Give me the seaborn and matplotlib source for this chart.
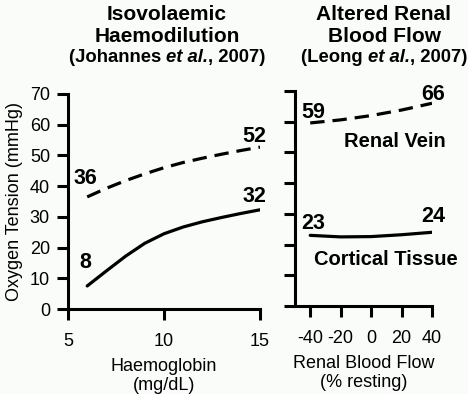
import matplotlib
matplotlib.use("Agg")
import matplotlib.pyplot as plt
from matplotlib.offsetbox import TextArea, HPacker, AnnotationBbox
import pandas as pd
import seaborn as sns

# left panel: haemodilution
hb = [6, 7, 8, 9, 10, 11, 12, 13, 14, 15]
renal_vein_hb = [36.5, 39.3, 41.8, 44.0, 46.0, 47.7, 49.1, 50.4, 51.6, 52.7]
cortex_hb = [7.5, 12.4, 17.2, 21.4, 24.5, 26.7, 28.4, 29.8, 31.1, 32.3]

# right panel: renal blood flow
rbf = [-40, -20, 0, 20, 40]
renal_vein_rbf = [59.6, 60.6, 62.0, 63.8, 66.0]
cortex_rbf = [23.0, 22.5, 22.6, 23.2, 24.0]

left_labels = [("36", 5.9, 42.5), ("52", 14.7, 56), ("8", 5.9, 15), ("32", 14.7, 36.5)]
right_labels = [("59", -38, 63), ("66", 40.5, 69), ("23", -38, 27), ("24", 40.5, 29)]

sns.set_style("ticks")
plt.rcParams["font.family"] = ["Liberation Sans", "DejaVu Sans"]
plt.rcParams["axes.unicode_minus"] = False
for k in ["text.color", "axes.labelcolor", "axes.edgecolor", "xtick.color", "ytick.color"]:
    plt.rcParams[k] = "black"

bg = "#fafcfa"
fig = plt.figure(figsize=(4.68, 3.94), dpi=100, facecolor=bg)
ax1 = fig.add_axes([68 / 468, 85 / 394, 192 / 468, 215 / 394], facecolor=bg)
ax2 = fig.add_axes([295 / 468, 88 / 394, 137 / 468, 215 / 394], facecolor=bg)

df_l = pd.DataFrame({"x": hb + hb, "y": renal_vein_hb + cortex_hb,
                     "site": ["vein"] * len(hb) + ["cortex"] * len(hb)})
df_r = pd.DataFrame({"x": rbf + rbf, "y": renal_vein_rbf + cortex_rbf,
                     "site": ["vein"] * len(rbf) + ["cortex"] * len(rbf)})

for ax, df in [(ax1, df_l), (ax2, df_r)]:
    sns.lineplot(data=df, x="x", y="y", style="site", color="black", lw=2.3,
                 dashes={"vein": (4.5, 2.5), "cortex": ""}, legend=False, ax=ax)
    ax.set_ylim(0, 70)
    ax.set_yticks(range(0, 71, 10))
    sns.despine(ax=ax)
    for s in ["left", "bottom"]:
        ax.spines[s].set_linewidth(2.2)
    ax.tick_params(length=8, width=2.2, labelsize=13)
    ax.tick_params(axis="x", pad=9)
    ax.tick_params(axis="y", pad=5)

ax1.set_xlim(5, 15)
ax1.set_xticks([5, 10, 15])
ax1.set_xlabel("Haemoglobin\n(mg/dL)", fontsize=13, linespacing=1.15, labelpad=6)
ax1.set_ylabel("Oxygen Tension (mmHg)", fontsize=13, labelpad=5)

ax2.set_xlim(-50, 40)
ax2.set_xticks([-40, -20, 0, 20, 40])
ax2.set_yticklabels([])
ax2.set_xlabel("Renal Blood Flow\n(% resting)", fontsize=13, linespacing=1.15, labelpad=6)
ax2.set_ylabel("")

for ax, labels in [(ax1, left_labels), (ax2, right_labels)]:
    for t, x, y in labels:
        ax.text(x, y, t, ha="center", va="center", fontsize=15.5,
                fontweight="bold", clip_on=False)

ax2.text(15.5, 53.5, "Renal Vein", ha="center", va="center", fontsize=14.5, fontweight="bold")
ax2.text(10, 15, "Cortical Tissue", ha="center", va="center", fontsize=14.5, fontweight="bold")

title_kw = dict(ha="center", va="center", fontsize=15, fontweight="bold")
fig.text(167 / 468, 1 - 15 / 394, "Isovolaemic", **title_kw)
fig.text(167 / 468, 1 - 37 / 394, "Haemodilution", **title_kw)
fig.text(384 / 468, 1 - 15 / 394, "Altered Renal", **title_kw)
fig.text(384 / 468, 1 - 37 / 394, "Blood Flow", **title_kw)


def cite(author, xc):
    parts = [(f"({author} ", "normal"), ("et al.", "italic"), (", 2007)", "normal")]
    boxes = [TextArea(t, textprops=dict(fontsize=13.3, fontweight="bold", fontstyle=st))
             for t, st in parts]
    pack = HPacker(children=boxes, pad=0, sep=0, align="baseline")
    ab = AnnotationBbox(pack, (xc, 1 - 58 / 394), xycoords="figure fraction",
                        frameon=False, box_alignment=(0.5, 0.5), pad=0)
    fig.add_artist(ab)


cite("Johannes", 167 / 468)
cite("Leong", 384 / 468)

fig.savefig("out.png", dpi=100, facecolor=bg)
